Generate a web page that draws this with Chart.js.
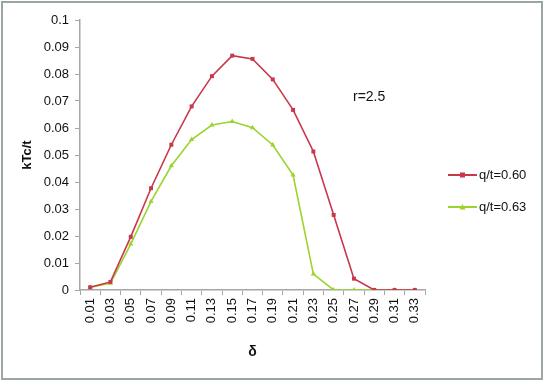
<!DOCTYPE html>
<html>
<head>
<meta charset="utf-8">
<script src="https://cdn.jsdelivr.net/npm/chart.js@4/dist/chart.umd.min.js"></script>
<style>
html,body{margin:0;padding:0;background:#fff;}
#wrap{position:relative;width:545px;height:382px;}
</style>
</head>
<body>
<div id="wrap"><canvas id="c" width="545" height="382"></canvas></div>
<script>
const categories = ["0.01","0.03","0.05","0.07","0.09","0.11","0.13","0.15","0.17","0.19","0.21","0.23","0.25","0.27","0.29","0.31","0.33"];
const series060 = [0.001,0.003,0.0197,0.0377,0.0538,0.068,0.0792,0.0868,0.0856,0.078,0.0667,0.0513,0.0278,0.0042,0,0,0];
const series063 = [0.001,0.0025,0.017,0.0328,0.046,0.0557,0.0611,0.0624,0.0601,0.0537,0.0426,0.0059,0,0,0,0,0];
const seriesNames = ["q/t=0.60","q/t=0.63"];
const annotationText = "r=2.5";
const yTitle = "kTc/t";
const xTitle = "δ";

const RED = '#c8374a';
const GREEN = '#9bd42c';
const FONT = "'Liberation Sans', Arial, sans-serif";

const extras = {
  id: 'extras',
  afterDraw(chart) {
    const ctx = chart.ctx;
    ctx.save();
    ctx.strokeStyle = '#9aa5a5';
    ctx.lineWidth = 2;
    ctx.strokeRect(2, 2, 540, 377);
    ctx.fillStyle = '#111';
    ctx.font = "14px " + FONT;
    ctx.textBaseline = 'middle';
    ctx.textAlign = 'left';
    ctx.fillText(annotationText, 353, 97);
    const items = [
      {name: seriesNames[0], color: RED, y: 175, shape: 'rect'},
      {name: seriesNames[1], color: GREEN, y: 207, shape: 'tri'}
    ];
    items.forEach(it => {
      ctx.strokeStyle = it.color;
      ctx.lineWidth = 2;
      ctx.beginPath();
      ctx.moveTo(448, it.y);
      ctx.lineTo(477, it.y);
      ctx.stroke();
      ctx.fillStyle = it.color;
      if (it.shape === 'rect') {
        ctx.fillRect(460, it.y - 2.5, 5, 5);
      } else {
        ctx.beginPath();
        ctx.moveTo(462.5, it.y - 3);
        ctx.lineTo(465.5, it.y + 2.5);
        ctx.lineTo(459.5, it.y + 2.5);
        ctx.closePath();
        ctx.fill();
      }
      ctx.fillStyle = '#111';
      ctx.font = "13px " + FONT;
      ctx.fillText(it.name, 479, it.y);
    });
    ctx.restore();
  }
};

new Chart(document.getElementById('c'), {
  type: 'line',
  data: {
    labels: categories,
    datasets: [
      {label: seriesNames[0], data: series060, borderColor: RED, backgroundColor: RED,
       borderWidth: 1.6, pointStyle: 'rect', pointRadius: 2.8, pointBorderWidth: 0, tension: 0},
      {label: seriesNames[1], data: series063, borderColor: GREEN, backgroundColor: GREEN,
       borderWidth: 1.6, pointStyle: 'triangle', pointRadius: 3, pointBorderWidth: 0, tension: 0}
    ]
  },
  options: {
    responsive: false,
    animation: false,
    layout: {padding: {left: 0, top: 20, right: 120, bottom: 0}},
    plugins: {legend: {display: false}, tooltip: {enabled: false}},
    scales: {
      x: {
        type: 'category',
        offset: true,
        grid: {display: true, offset: true, drawOnChartArea: false, tickLength: 5, color: '#a6a6a6'},
        border: {color: '#a6a6a6', width: 1.5},
        ticks: {minRotation: 90, maxRotation: 90, autoSkip: false, color: '#111', font: {family: FONT, size: 13}, padding: 3},
        title: {display: true, text: xTitle, color: '#111', font: {family: FONT, size: 14, weight: 'bold'}, padding: {top: 0, bottom: 21}},
        afterFit(s) { s.height = 92; }
      },
      y: {
        min: 0, max: 0.1,
        grid: {display: true, drawOnChartArea: false, tickLength: 5, color: '#a6a6a6'},
        border: {color: '#a6a6a6', width: 1.5},
        ticks: {stepSize: 0.01, color: '#111', font: {family: FONT, size: 13}, padding: 6,
                callback: v => String(Number(v.toFixed(2)))},
        title: {display: true, text: yTitle, color: '#111', font: {family: FONT, size: 13, weight: 'bold'}, padding: {top: 20, bottom: 0}},
        afterFit(s) { s.width = 80; }
      }
    }
  },
  plugins: [extras]
});
</script>
</body>
</html>
